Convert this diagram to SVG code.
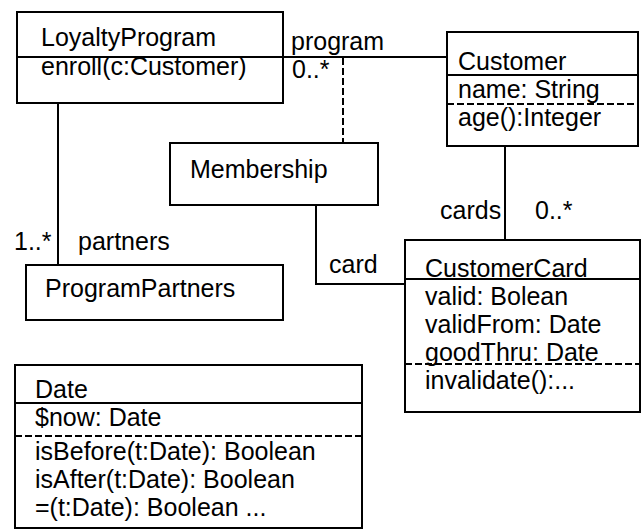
<svg xmlns="http://www.w3.org/2000/svg" width="642" height="532" viewBox="0 0 642 532">
<style>
.box{fill:none;stroke:#000;stroke-width:2}
.ln{fill:none;stroke:#000;stroke-width:2}
.dash{fill:none;stroke:#000;stroke-width:2;stroke-dasharray:7 3}
text{font-family:"Liberation Sans",Arial,sans-serif;font-size:25px;fill:#000}
</style>
<rect width="642" height="532" fill="#fff"/>
<g id="connectors">
<line class="ln" x1="283" y1="57" x2="447" y2="57"/>
<line class="dash" x1="343" y1="58" x2="343" y2="143"/>
<line class="ln" x1="58" y1="103" x2="58" y2="265"/>
<line class="ln" x1="505" y1="146" x2="505" y2="240"/>
<polyline class="ln" points="316,205 316,284 405,284"/>
<text x="291" y="50">program</text>
<text x="292" y="78">0..*</text>
<text x="14" y="250">1..*</text>
<text x="78" y="250">partners</text>
<text x="440" y="219">cards</text>
<text x="535" y="219">0..*</text>
<text x="329" y="273">card</text>
</g>
<g id="LoyaltyProgram">
<rect class="box" x="17" y="12" width="266" height="91"/>
<line class="ln" x1="17" y1="57" x2="283" y2="57"/>
<text x="41" y="46">LoyaltyProgram</text>
<text x="41" y="75">enroll(c:Customer)</text>
</g>
<g id="Customer">
<rect class="box" x="447" y="32" width="191" height="114"/>
<line class="ln" x1="447" y1="75" x2="638" y2="75"/>
<line class="dash" x1="447" y1="104" x2="638" y2="104"/>
<text x="458" y="70">Customer</text>
<text x="458" y="98">name: String</text>
<text x="458" y="126">age():Integer</text>
</g>
<g id="Membership">
<rect class="box" x="170" y="143" width="208" height="62"/>
<text x="190" y="178">Membership</text>
</g>
<g id="ProgramPartners">
<rect class="box" x="26" y="265" width="257" height="55"/>
<text x="45" y="297">ProgramPartners</text>
</g>
<g id="CustomerCard">
<rect class="box" x="405" y="240" width="235" height="172"/>
<line class="ln" x1="405" y1="279" x2="640" y2="279"/>
<line class="dash" x1="405" y1="364" x2="640" y2="364"/>
<text x="425" y="277">CustomerCard</text>
<text x="425" y="305">valid: Bolean</text>
<text x="425" y="333">validFrom: Date</text>
<text x="425" y="361">goodThru: Date</text>
<text x="425" y="389">invalidate():...</text>
</g>
<g id="Date">
<rect class="box" x="15" y="365" width="347" height="163"/>
<line class="ln" x1="15" y1="403" x2="362" y2="403"/>
<line class="dash" x1="15" y1="436" x2="362" y2="436"/>
<text x="35" y="398">Date</text>
<text x="35" y="426">$now: Date</text>
<text x="35" y="460">isBefore(t:Date): Boolean</text>
<text x="35" y="488">isAfter(t:Date): Boolean</text>
<text x="35" y="516">=(t:Date): Boolean ...</text>
</g>
</svg>
